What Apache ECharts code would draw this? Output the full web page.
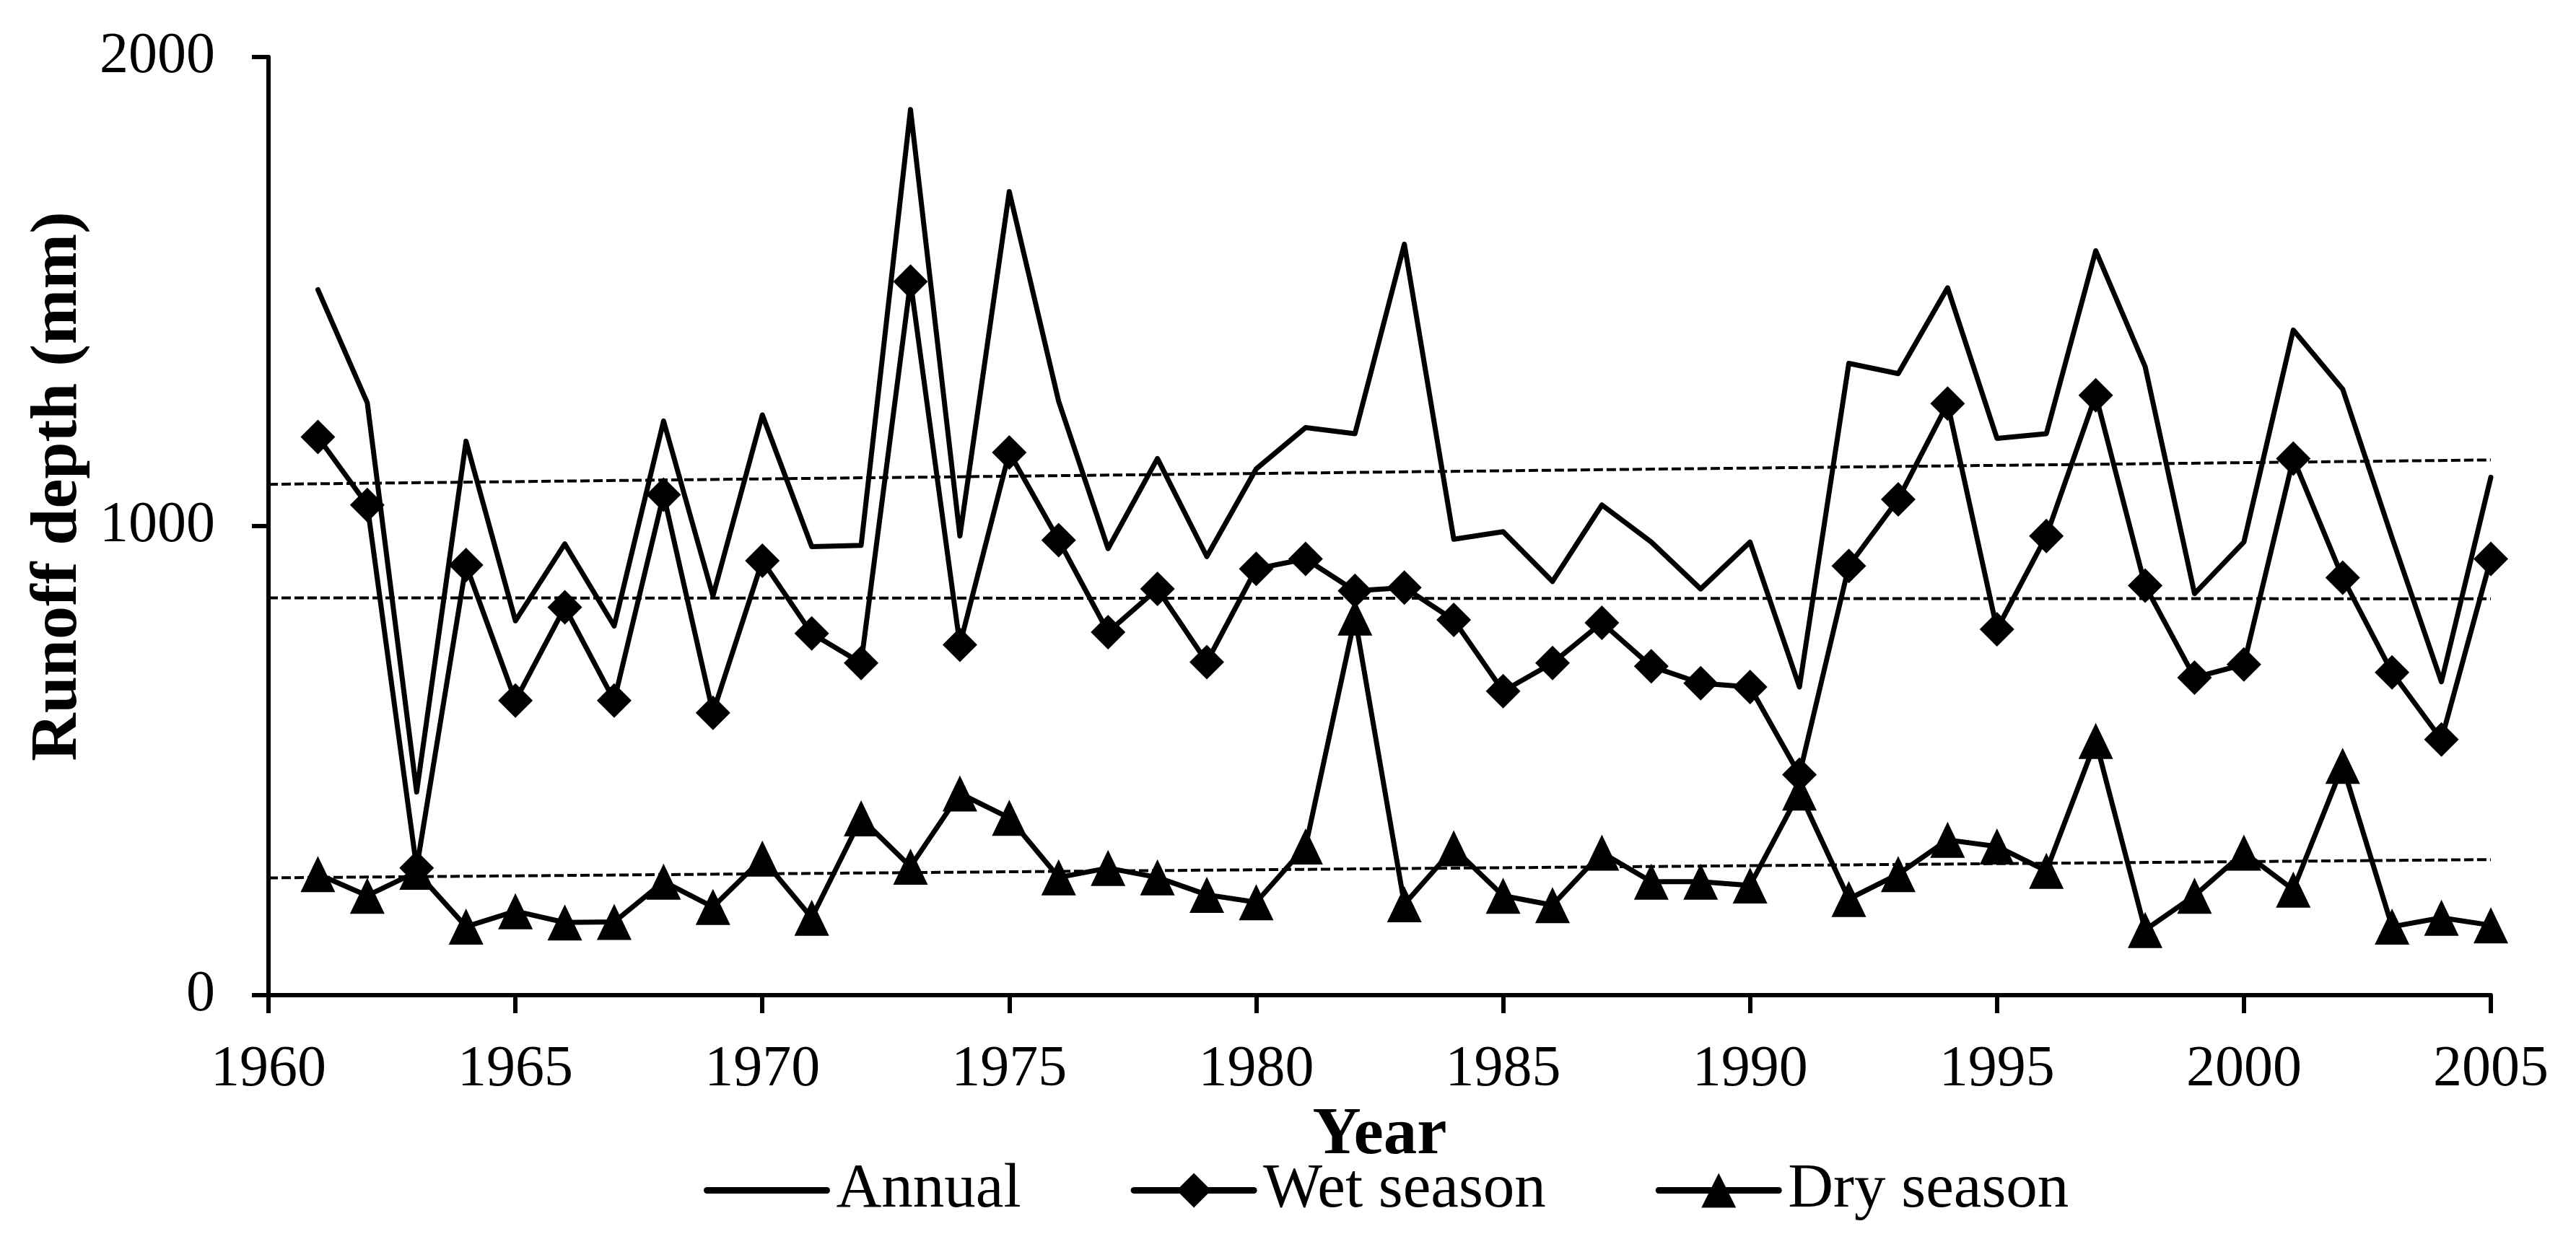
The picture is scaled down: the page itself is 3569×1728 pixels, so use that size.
<!DOCTYPE html>
<html>
<head>
<meta charset="utf-8">
<script src="https://cdn.jsdelivr.net/npm/echarts@6/dist/echarts.min.js"></script>
<style>
html, body { margin: 0; padding: 0; background: #fff; }
#chart { width: 3569px; height: 1728px; }
</style>
</head>
<body>
<div id="chart"></div>
<script>
// runoff depth per year (mm)
var years = [1961, 1962, 1963, 1964, 1965, 1966, 1967, 1968, 1969, 1970,
	1971, 1972, 1973, 1974, 1975, 1976, 1977, 1978, 1979, 1980,
	1981, 1982, 1983, 1984, 1985, 1986, 1987, 1988, 1989, 1990,
	1991, 1992, 1993, 1994, 1995, 1996, 1997, 1998, 1999, 2000,
	2001, 2002, 2003, 2004, 2005];
var annual = [1504, 1263, 433, 1181, 798, 962, 787, 1224, 851, 1237,
	956, 959, 1888, 979, 1713, 1266, 952, 1144, 935, 1122,
	1210, 1197, 1601, 972, 988, 882, 1045, 966, 866, 966,
	657, 1347, 1325, 1508, 1187, 1197, 1587, 1340, 856, 966,
	1418, 1292, 975, 668, 1104];
var wetSeason = [1190, 1045, 271, 917, 628, 827, 628, 1067, 602, 926,
	771, 708, 1521, 747, 1157, 970, 774, 866, 710, 909,
	930, 862, 869, 800, 648, 708, 794, 701, 665, 657,
	470, 915, 1057, 1261, 780, 979, 1279, 873, 677, 705,
	1144, 890, 688, 545, 930];
var drySeason = [258, 212, 263, 146, 179, 155, 156, 242, 188, 291,
	165, 377, 274, 430, 378, 251, 271, 251, 214, 198,
	317, 805, 194, 313, 212, 192, 304, 242, 242, 234,
	432, 205, 258, 331, 317, 265, 542, 139, 212, 304,
	225, 489, 146, 165, 149];

// linear trend lines (end points)
var trendYears = [1960, 2005];
var annualTrend = [1089, 1141];
var wetTrend = [847, 845];
var dryTrend = [250, 289];

var yTicks = [0, 1000, 2000];
var xTickStep = 5;

function pairs(xs, ys) {
	var out = [];
	for (var i = 0; i < xs.length; i++) {
		out.push([xs[i], ys[i]]);
	}
	return out;
}

var font = "'Liberation Serif', 'Times New Roman', serif";

function trendSeries(name, vals) {
	return {
		name: name,
		type: 'line',
		data: pairs(trendYears, vals),
		symbol: 'none',
		silent: true,
		z: 1,
		lineStyle: { color: '#000', width: 4, type: [13, 5] }
	};
}

var legendLine = { width: 9, color: '#000' };

var echar = echarts.init(document.getElementById('chart'));
var option = {
	animation: false,
	backgroundColor: '#fff',
	textStyle: { fontFamily: font, color: '#000' },
	grid: { left: 372, right: 118, top: 79, bottom: 349, containLabel: false },
	legend: {
		left: 970,
		top: 1601,
		itemWidth: 166,
		itemHeight: 60,
		itemGap: 152,
		lineStyle: legendLine,
		textStyle: { fontFamily: font, fontSize: 87, color: '#000', lineHeight: 60, padding: [0, 0, 0, 8] },
		data: [
			{ name: 'Annual', lineStyle: legendLine, itemStyle: { color: 'rgba(0,0,0,0)', opacity: 0 } },
			{ name: 'Wet season', lineStyle: legendLine },
			{ name: 'Dry season', lineStyle: legendLine }
		]
	},
	xAxis: {
		type: 'value',
		min: 1960,
		max: 2005,
		interval: xTickStep,
		name: 'Year',
		nameLocation: 'middle',
		nameGap: 140,
		nameTextStyle: { fontFamily: font, fontSize: 93, fontWeight: 'bold', color: '#000' },
		axisLine: { lineStyle: { color: '#000', width: 6 } },
		axisTick: { length: 25, lineStyle: { color: '#000', width: 6 } },
		axisLabel: {
			margin: 64, fontSize: 80, color: '#000', fontFamily: font,
			formatter: function(v) { return String(v); }
		},
		splitLine: { show: false }
	},
	yAxis: {
		type: 'value',
		min: yTicks[0],
		max: yTicks[yTicks.length - 1],
		interval: yTicks[1] - yTicks[0],
		name: 'Runoff depth (mm)',
		nameLocation: 'middle',
		nameGap: 228,
		nameTextStyle: { fontFamily: font, fontSize: 92, fontWeight: 'bold', color: '#000', padding: [0, 0, 0, 110] },
		axisLine: { show: true, lineStyle: { color: '#000', width: 6 } },
		axisTick: { show: true, length: 23, lineStyle: { color: '#000', width: 6 } },
		axisLabel: {
			margin: 74, fontSize: 80, color: '#000', fontFamily: font,
			formatter: function(v) { return String(v); }
		},
		splitLine: { show: false }
	},
	series: [
		trendSeries('annualTrend', annualTrend),
		trendSeries('wetTrend', wetTrend),
		trendSeries('dryTrend', dryTrend),
		{
			name: 'Annual',
			type: 'line',
			data: pairs(years, annual),
			symbol: 'none',
			z: 2,
			lineStyle: { color: '#000', width: 7, join: 'round', cap: 'round' },
			itemStyle: { color: '#000' }
		},
		{
			name: 'Wet season',
			type: 'line',
			data: pairs(years, wetSeason),
			symbol: 'diamond',
			symbolSize: 48,
			z: 3,
			lineStyle: { color: '#000', width: 7, join: 'round', cap: 'round' },
			itemStyle: { color: '#000' }
		},
		{
			name: 'Dry season',
			type: 'line',
			data: pairs(years, drySeason),
			symbol: 'triangle',
			symbolSize: [48, 50],
			z: 4,
			lineStyle: { color: '#000', width: 7, join: 'round', cap: 'round' },
			itemStyle: { color: '#000' }
		}
	]
};
echar.setOption(option);
</script>
</body>
</html>
